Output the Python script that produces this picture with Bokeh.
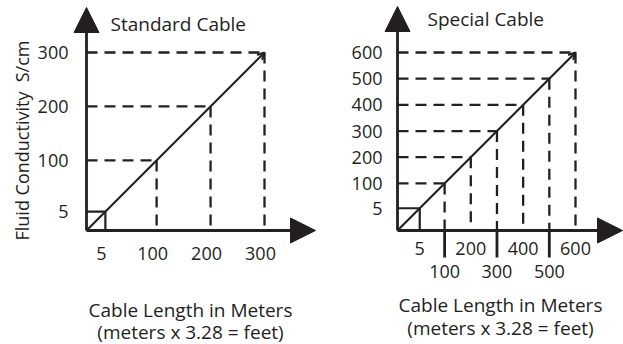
import math
from bokeh.plotting import figure
from bokeh.layouts import row
from bokeh.models import Arrow, NormalHead, OpenHead, ColumnDataSource
from bokeh.core.properties import value
from bokeh.embed import file_html
from bokeh.resources import INLINE

# ---------------- data ----------------
std_title = "Standard Cable"
std_ticks = [5, 100, 200, 300]
std_labels = ["5", "100", "200", "300"]

spc_title = "Special Cable"
spc_ticks = [5, 100, 200, 300, 400, 500, 600]
spc_labels = ["5", "100", "200", "300", "400", "500", "600"]
spc_long_ticks = [100, 300, 500]

y_title = "Fluid Conductivity \u00a0S/cm"
x_title_1 = "Cable Length in Meters"
x_title_2 = "(meters x 3.28 = feet)"

# ---------------- style ----------------
INK = "#231f20"
FONT = "Open Sans"
FS = "18px"
FS_TITLE = "19px"
DASH = "11 7"


def panel(title, ticks, labels, W, H, ox, oy, O, s, cfg):
    vmax = max(ticks)
    x0 = O - ox / s
    x1 = x0 + W / s
    y1 = O + oy / s
    y0 = y1 - H / s

    def dx(px):
        return x0 + px / s

    def dy(py):
        return y1 - py / s

    p = figure(width=W, height=H, x_range=(x0, x1), y_range=(y0, y1),
               output_backend="svg", toolbar_location=None,
               x_axis_location=None, y_axis_location=None,
               min_border=0, outline_line_color=None)
    p.xgrid.visible = False
    p.ygrid.visible = False

    guides = [t for t in ticks if t > 5]
    gsrc = ColumnDataSource(dict(v=guides, o=[O] * len(guides)))
    p.segment(x0="o", y0="v", x1="v", y1="v", source=gsrc,
              line_color=INK, line_width=2.3, line_dash=DASH)
    p.segment(x0="v", y0="v", x1="v", y1="o", source=gsrc,
              line_color=INK, line_width=2.3, line_dash=DASH)

    small = min(ticks)
    p.segment(x0=[O, small], y0=[small, small], x1=[small, small], y1=[small, O],
              line_color=INK, line_width=2.2)

    # axes with arrow heads
    p.add_layout(Arrow(x_start=O, y_start=O, x_end=O, y_end=dy(cfg["yapex"]),
                       line_color=INK, line_width=2.8,
                       end=NormalHead(size=25, fill_color=INK, line_color=INK, line_width=1)))
    p.add_layout(Arrow(x_start=O, y_start=O, x_end=dx(cfg["xapex"]), y_end=O,
                       line_color=INK, line_width=2.8,
                       end=NormalHead(size=25, fill_color=INK, line_color=INK, line_width=1)))
    # diagonal
    p.add_layout(Arrow(x_start=O, y_start=O, x_end=vmax, y_end=vmax,
                       line_color=INK, line_width=2.2,
                       end=OpenHead(size=7, line_color=INK, line_width=2)))

    tf = dict(text_font=value(FONT), text_font_size=FS, text_color=INK)
    tt = dict(text_font=value(FONT), text_font_size=FS_TITLE, text_color=INK)
    # y tick labels
    p.text(x=[O] * len(ticks), y=ticks, text=labels, x_offset=cfg["ylab_dx"],
           text_align="right", text_baseline="middle", **tf)
    # x tick labels
    p.text(x=ticks, y=[O] * len(ticks), text=labels, x_offset=cfg["xlab_dx"],
           y_offset=cfg["xlab_dy"], text_align="center", text_baseline="middle", **tf)

    if cfg.get("long_ticks"):
        lt = cfg["long_ticks"]
        p.segment(x0=lt, y0=[O] * len(lt), x1=lt, y1=[O - cfg["long_len"] / s] * len(lt),
                  line_color=INK, line_width=2.8)

    p.text(x=[dx(cfg["title_x"])], y=[dy(cfg["title_y"])], text=[title],
           text_align="left", text_baseline="middle", **tt)
    p.text(x=[dx(cfg["xt_x"])] * 2, y=[dy(cfg["xt_y1"]), dy(cfg["xt_y2"])],
           text=[x_title_1, x_title_2], text_align="center", text_baseline="middle", **tt)
    if cfg.get("ytitle"):
        p.text(x=[dx(21)], y=[dy(140)], text=[y_title], angle=math.pi / 2,
               text_align="center", text_baseline="middle", **tf)
    return p


left = panel(std_title, std_ticks, std_labels, 320, 344, 86, 230, -30, 178 / 330,
             dict(yapex=7, xapex=315, ylab_dx=-18, xlab_dx=-4, xlab_dy=23,
                  title_x=110, title_y=23, xt_x=190, xt_y1=309, xt_y2=331,
                  ytitle=True))

right = panel(spc_title, spc_ticks, spc_labels, 303, 344, 77, 230, -80, 178 / 680,
              dict(yapex=6, xapex=302, ylab_dx=-15, xlab_dx=0,
                   xlab_dy=[18, 41, 18, 41, 18, 41, 18],
                   long_ticks=spc_long_ticks, long_len=27,
                   title_x=107, title_y=18, xt_x=180, xt_y1=304, xt_y2=327))

layout = row(left, right)
open("out.html", "w").write(file_html(layout, INLINE))
